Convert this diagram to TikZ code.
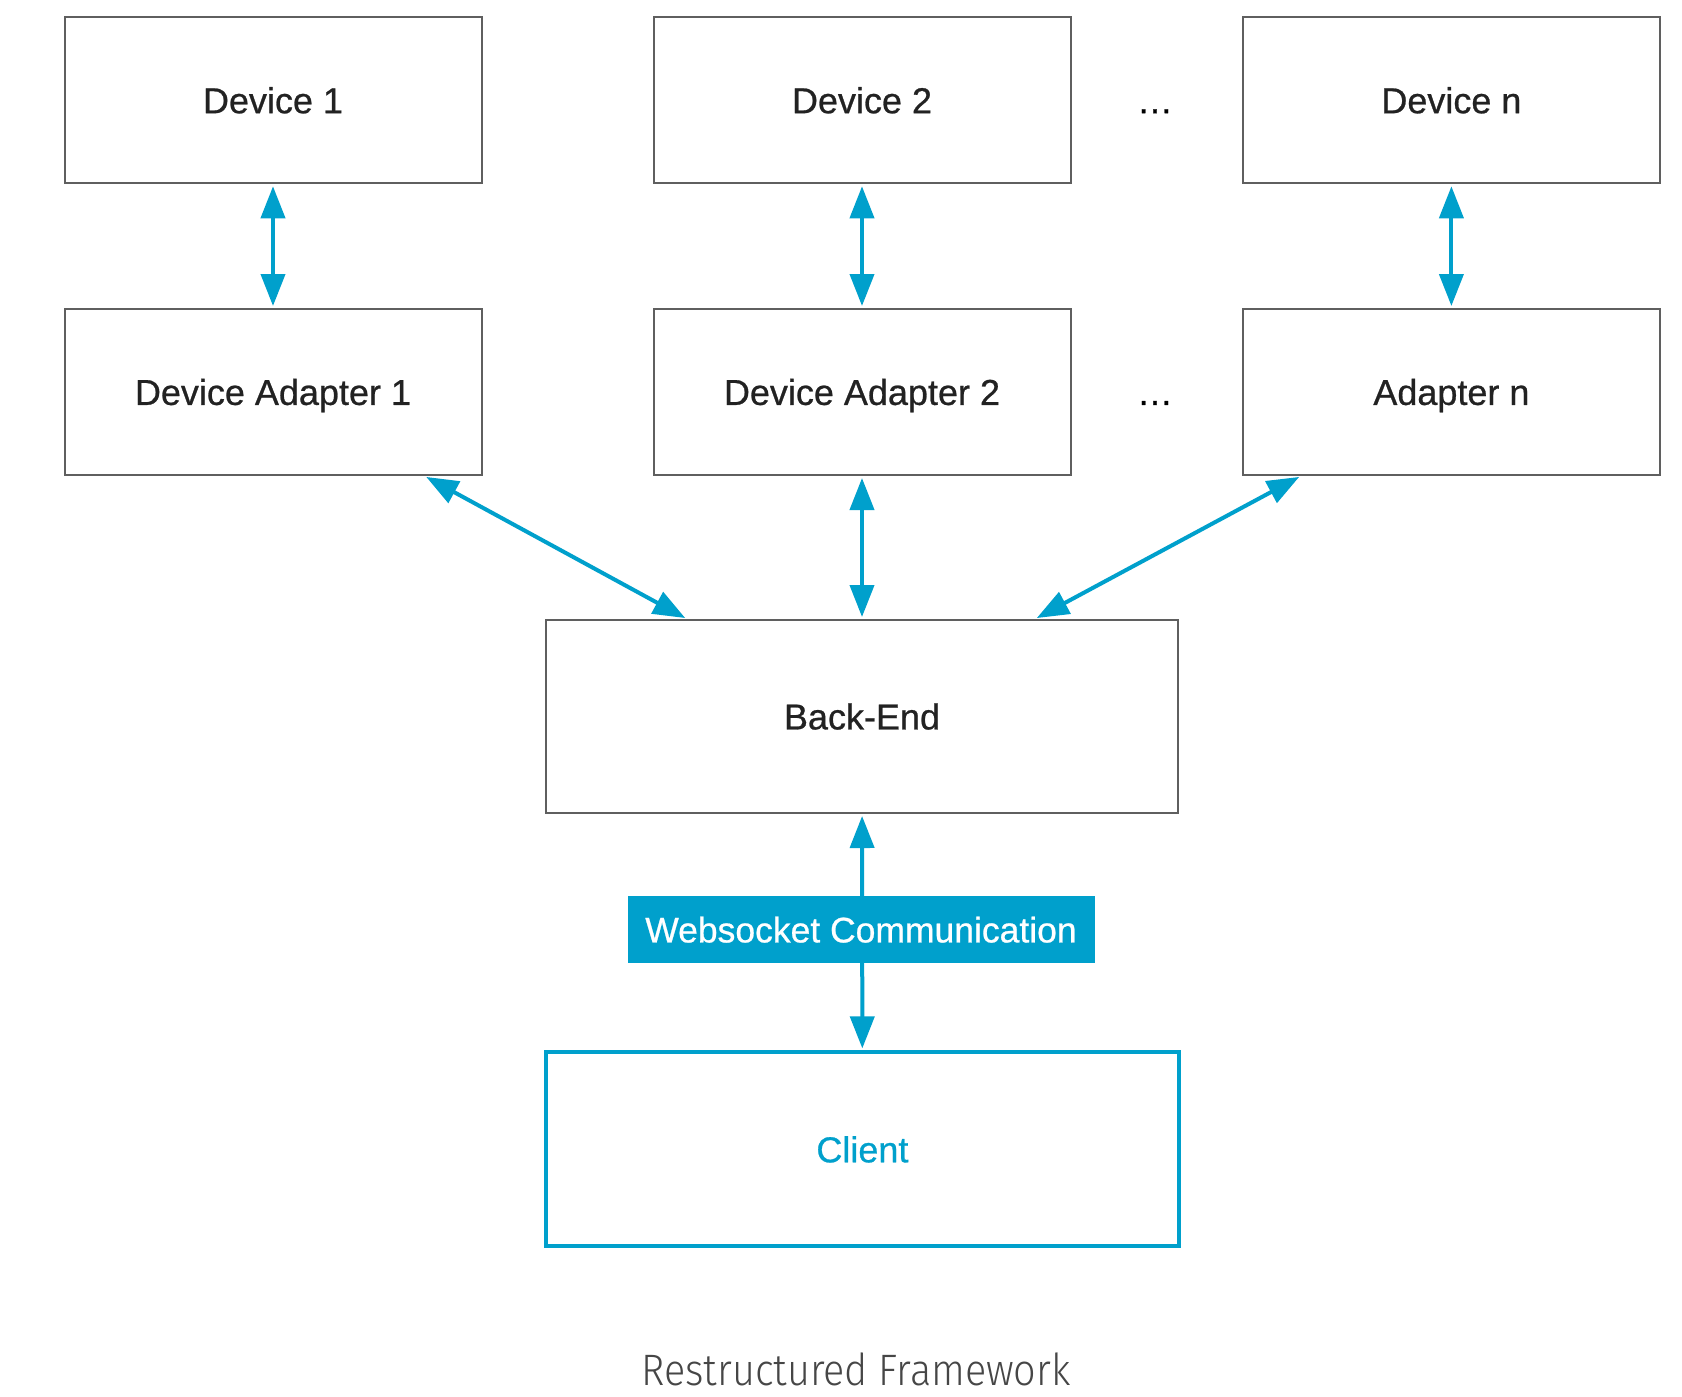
\documentclass[tikz,border=0pt]{standalone}
\usepackage{fontspec}
\setmainfont[FakeBold=0.7]{Liberation Sans}
\newfontfamily\capfont[FakeStretch=0.9]{Fira Sans Light}
\usetikzlibrary{arrows.meta,calc}
\definecolor{myblue}{RGB}{0,160,204}
\definecolor{boxgray}{RGB}{95,95,95}
\definecolor{txt}{RGB}{34,34,34}
\definecolor{capgray}{RGB}{70,70,70}
\begin{document}
\begin{tikzpicture}[x=1pt,y=-1pt,
  lbl/.style={font=\fontsize{36}{40}\selectfont, text height=25.8pt, text depth=0pt, inner sep=0pt},
  box/.style={lbl, draw=boxgray, line width=2pt, minimum width=417pt, minimum height=166pt, text=txt},
  conn/.style={draw=myblue, line width=4pt, {Triangle[length=32pt,width=24pt]}-{Triangle[length=32pt,width=24pt]}, shorten <=2pt, shorten >=2pt},
]
\useasboundingbox (0,0) rectangle (1682,1397);
\fill[white] (0,0) rectangle (1682,1397);

\node[box] (d1) at (273,100.3) {Device 1};
\node[box] (d2) at (862,100.3) {Device 2};
\node[box] (dn) at (1451.4,100.3) {Device n};
\node[box] (a1) at (273,392) {Device Adapter 1};
\node[box] (a2) at (862,392) {Device Adapter 2};
\node[box] (an) at (1451.4,392) {Adapter n};
\node[lbl, text=black] (dots1) at (1155,100.3) {…};
\node[lbl, text=black] (dots2) at (1155,392) {…};

\node[box, minimum width=632pt, minimum height=193pt] (be) at (862,716.5) {Back-End};
\node[box, draw=myblue, line width=4pt, minimum width=633pt, minimum height=194pt, text=myblue] (cl) at (862.4,1149.4) {Client};

\coordinate (a1p) at ($(a1.south east)+(-58,0)$);
\coordinate (anp) at ($(an.south west)+(59,0)$);
\coordinate (bel) at ($(be.north west)+(142,0)$);
\coordinate (ber) at ($(be.north east)+(-144,0)$);

\draw[conn] (d1) -- (a1);
\draw[conn] (d2) -- (a2);
\draw[conn] (dn) -- (an);
\draw[conn] (a1p) -- (bel);
\draw[conn] (a2) -- (be);
\draw[conn] (anp) -- (ber);
\draw[conn] (be) -- (cl);

\node[lbl, fill=myblue, text=white, minimum width=467pt, minimum height=67.6pt, font=\fontsize{35.5}{40}\selectfont] (ws) at (861,929.5) {Websocket Communication};

\node[inner sep=0pt, anchor=base, text=capgray, font=\capfont\fontsize{44}{50}\selectfont] (cap) at (856,1385) {Restructured Framework};
\end{tikzpicture}
\end{document}
